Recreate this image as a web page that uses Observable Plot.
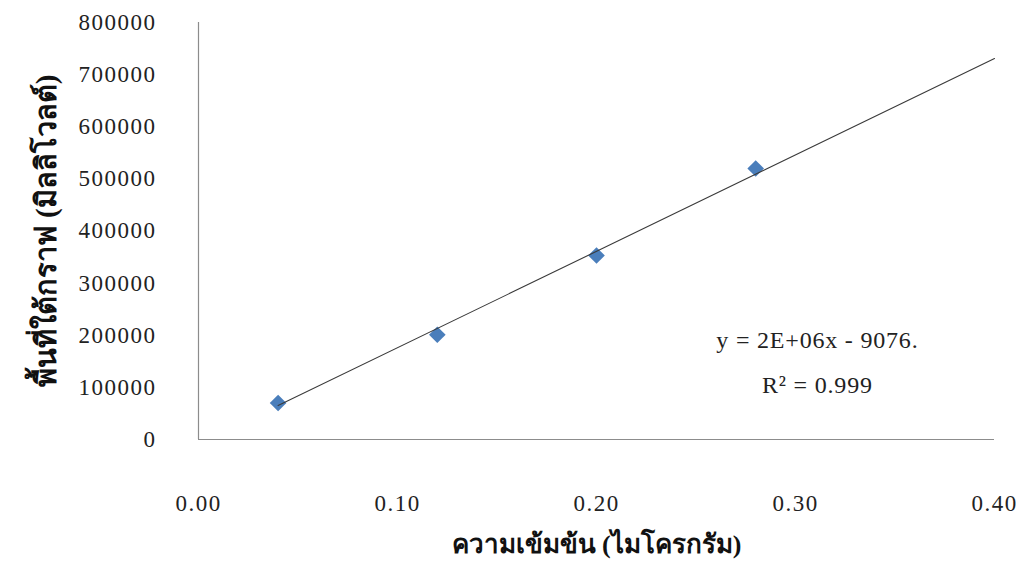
<!DOCTYPE html>
<html>
<head>
<meta charset="utf-8">
<script src="https://cdn.jsdelivr.net/npm/d3@7"></script>
<script src="https://cdn.jsdelivr.net/npm/@observablehq/plot@0.6"></script>
<style>
  html, body { margin: 0; padding: 0; background: #fff; }
  svg { display: block; }
</style>
</head>
<body>
<div id="chart"></div>
<script>
// Data
const concentration = [0.04, 0.12, 0.20, 0.28];
const peakArea = [70000, 201000, 353000, 520000];
const trendX = [0.04, 0.40];
const trendY = [65000, 731000];
const xTicks = [0.00, 0.10, 0.20, 0.30, 0.40];
const yTicks = [0, 100000, 200000, 300000, 400000, 500000, 600000, 700000, 800000];
const xTitle = "ความเข้มข้น (ไมโครกรัม)";
const yTitle = "พื้นที่ใต้กราฟ (มิลลิโวลต์)";
const equationText = "y = 2E+06x - 9076.";
const r2Text = "R² = 0.999";
const annotX = [0.311, 0.311];
const annotY = [190000, 103000];

const points = concentration.map((x, i) => ({x, y: peakArea[i]}));
const trend = trendX.map((x, i) => ({x, y: trendY[i]}));
const annots = [
  {x: annotX[0], y: annotY[0], t: equationText},
  {x: annotX[1], y: annotY[1], t: r2Text}
];

const serif = "'Liberation Serif', 'Times New Roman', serif";

const chart = Plot.plot({
  width: 1025,
  height: 562,
  marginLeft: 198,
  marginRight: 31,
  marginTop: 22,
  marginBottom: 123,
  style: {fontFamily: serif, background: "#fff", color: "#222"},
  x: {domain: [0, 0.4]},
  y: {domain: [0, 800000]},
  marks: [
    Plot.axisY({
      ticks: yTicks,
      tickSize: 0,
      tickPadding: 42,
      tickFormat: d => String(d),
      fontSize: 23,
      label: yTitle,
      labelAnchor: "center",
      labelOffset: 163,
      labelArrow: "none"
    }),
    Plot.axisX({
      ticks: xTicks,
      tickSize: 0,
      tickPadding: 55,
      tickFormat: d => d.toFixed(2),
      fontSize: 23,
      label: xTitle,
      labelAnchor: "center",
      labelOffset: 113,
      labelArrow: "none"
    }),
    Plot.ruleX([0], {stroke: "#8c8c8c", strokeWidth: 1.2}),
    Plot.ruleY([0], {stroke: "#8c8c8c", strokeWidth: 1.2}),
    Plot.dot(points, {x: "x", y: "y", symbol: "diamond2", r: 7.5, fill: "#4a7ebb", stroke: "none"}),
    Plot.line(trend, {x: "x", y: "y", stroke: "#3a3a3a", strokeWidth: 1.1}),
    Plot.text(annots, {x: "x", y: "y", text: "t", fontSize: 24, fill: "#222", fontFamily: serif})
  ]
});

// style axis labels (bold, larger)
chart.querySelectorAll("g[aria-label='x-axis label'] text").forEach(t => {
  t.setAttribute("font-weight", "bold");
  t.setAttribute("font-size", "26");
  t.setAttribute("fill", "#111");
});
chart.querySelectorAll("g[aria-label='y-axis label'] text").forEach(t => {
  t.setAttribute("font-weight", "bold");
  t.setAttribute("font-size", "29");
  t.setAttribute("fill", "#111");
});
chart.querySelectorAll("g[aria-label='x-axis tick label'] text, g[aria-label='y-axis tick label'] text").forEach(t => {
  t.setAttribute("letter-spacing", "1.5");
});
chart.querySelectorAll("g[aria-label='text'] text").forEach(t => {
  t.setAttribute("letter-spacing", "0.8");
});

document.getElementById("chart").appendChild(chart);
</script>
</body>
</html>
